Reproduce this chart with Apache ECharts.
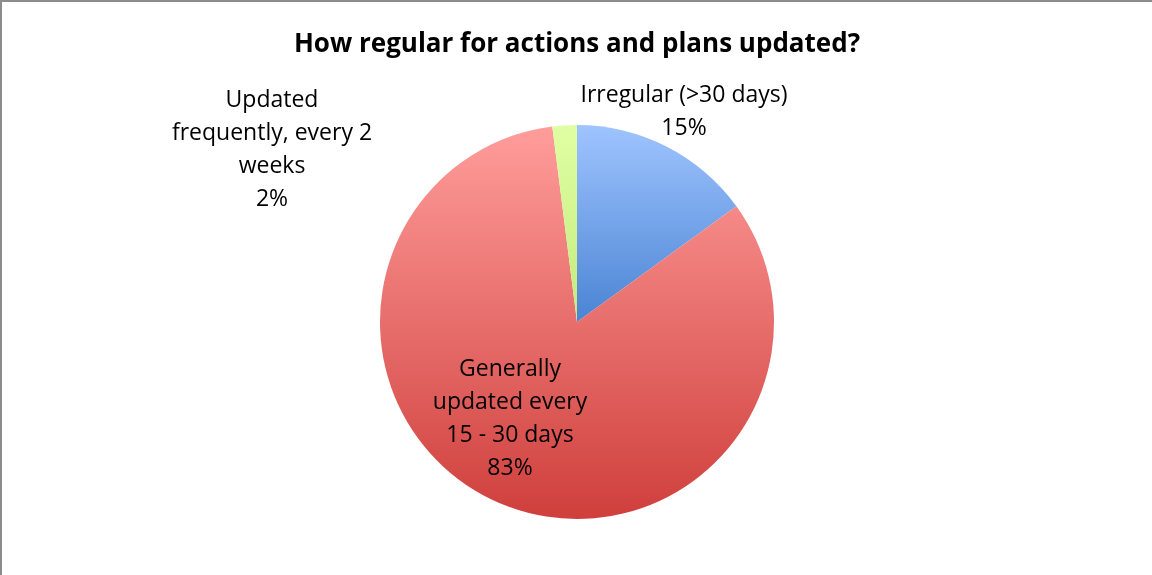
<!DOCTYPE html>
<html>
<head>
<meta charset="utf-8">
<script src="https://cdn.jsdelivr.net/npm/echarts@6/dist/echarts.min.js"></script>
<style>
  html, body { margin: 0; padding: 0; background: #fff; }
  #chart {
    width: 1150px; height: 573px;
    border-top: 2px solid #8c8c8c;
    border-left: 2px solid #8c8c8c;
  }
</style>
</head>
<body>
<div id="chart"></div>
<script>
// 分类和数值
const categories = ['Irregular (>30 days)', 'Generally\nupdated every\n15 - 30 days', 'Updated\nfrequently, every 2\nweeks'];
const values = [15, 83, 2];
// 各扇区渐变色（上 -> 下）
const topColors = ['#9fc4ff', '#ff9d9b', '#e0ffa2'];
const bottomColors = ['#4a84d3', '#cf3f3c', '#c3ea7e'];
// 标签位置（相对于页面）
const labelPos = [[684, 112], [510, 419], [272, 150]];

const chart = echarts.init(document.getElementById('chart'));

const data = categories.map((name, i) => ({
  name: name,
  value: values[i],
  itemStyle: {
    color: new echarts.graphic.LinearGradient(0, 0, 0, 1, [
      { offset: 0, color: topColors[i] },
      { offset: 1, color: bottomColors[i] }
    ])
  }
}));

chart.setOption({
  backgroundColor: '#fff',
  animation: false,
  title: {
    text: 'How regular for actions and plans updated?',
    left: 'center',
    top: 25,
    textStyle: {
      fontFamily: 'Open Sans',
      fontWeight: 'bold',
      fontSize: 26,
      color: '#000'
    }
  },
  series: [
    {
      type: 'pie',
      center: [575, 320],
      radius: 197,
      startAngle: 90,
      clockwise: true,
      data: data,
      itemStyle: { borderWidth: 0 },
      label: {
        show: true,
        position: 'inside',
        formatter: p => p.name + '\n' + p.value + '%',
        fontFamily: 'Open Sans',
        fontSize: 23,
        lineHeight: 33,
        color: '#000',
        align: 'center'
      },
      labelLine: { show: false },
      labelLayout: function (params) {
        const pos = labelPos[params.dataIndex];
        return {
          x: pos[0] - 2,
          y: pos[1] - 2,
          align: 'center',
          verticalAlign: 'middle'
        };
      },
      emphasis: { disabled: true }
    }
  ]
});

window.addEventListener('resize', () => chart.resize());
</script>
</body>
</html>
